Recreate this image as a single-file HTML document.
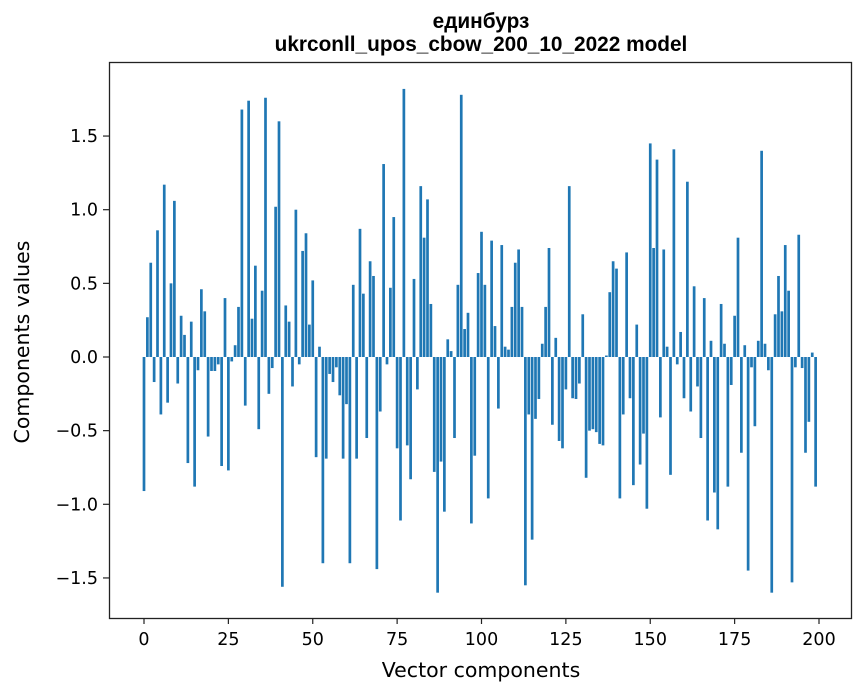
<!DOCTYPE html>
<html><head><meta charset="utf-8"><style>
html,body{margin:0;padding:0;background:#fff;}
svg{display:block;font-family:"DejaVu Sans","Liberation Sans",sans-serif;}
</style></head><body>
<svg id="chart" width="867" height="696" viewBox="0 0 867 696" xmlns="http://www.w3.org/2000/svg">
<rect x="0" y="0" width="867" height="696" fill="#fff"/>
<text x="481" y="28" text-anchor="middle" font-family="Liberation Sans, sans-serif" font-weight="bold" font-size="20.8">единбурз</text>
<text x="481" y="51" text-anchor="middle" font-family="Liberation Sans, sans-serif" font-weight="bold" font-size="20.8">ukrconll_upos_cbow_200_10_2022 model</text>
<g id="bars"></g>
<g id="axes"></g>
<rect x="109.5" y="62.5" width="742" height="556" fill="none" stroke="#222" stroke-width="1.3"/>
<text x="481" y="677" text-anchor="middle" font-size="20.5">Vector components</text>
<text transform="translate(29,342) rotate(-90)" text-anchor="middle" font-size="20.5">Components values</text>
</svg>
<script>
const values = [
-0.91,0.27,0.64,-0.17,0.86,-0.39,1.17,-0.31,0.50,1.06,
-0.18,0.28,0.15,-0.72,0.24,-0.88,-0.09,0.46,0.31,-0.54,
-0.095,-0.095,-0.05,-0.74,0.40,-0.77,-0.03,0.08,0.34,1.68,
-0.33,1.74,0.26,0.62,-0.49,0.45,1.76,-0.25,-0.075,1.02,
1.60,-1.56,0.35,0.24,-0.20,1.00,-0.05,0.72,0.84,0.22,
0.52,-0.68,0.07,-1.40,-0.69,-0.115,-0.17,-0.07,-0.26,-0.69,
-0.32,-1.40,0.49,-0.69,0.87,0.43,-0.55,0.65,0.55,-1.44,
-0.37,1.31,-0.05,0.47,0.95,-0.62,-1.11,1.82,-0.60,-0.83,
0.53,-0.22,1.16,0.81,1.07,0.36,-0.78,-1.60,-0.71,-1.05,
0.12,0.04,-0.55,0.49,1.78,0.19,0.30,-1.13,-0.67,0.57,
0.85,0.49,-0.96,0.79,0.21,-0.35,0.76,0.07,0.05,0.34,
0.64,0.73,0.34,-1.55,-0.39,-1.24,-0.42,-0.285,0.09,0.34,
0.74,-0.46,0.13,-0.57,-0.62,-0.22,1.16,-0.28,-0.285,-0.18,
0.29,-0.82,-0.50,-0.49,-0.51,-0.59,-0.60,0.01,0.44,0.65,
0.60,-0.96,-0.39,0.71,-0.28,-0.87,0.22,-0.73,-0.52,-1.03,
1.45,0.74,1.34,-0.41,0.73,0.07,-0.80,1.41,-0.05,0.17,
-0.28,1.19,-0.37,0.48,-0.20,-0.55,0.40,-1.11,0.11,-0.92,
-1.17,0.36,0.09,-0.88,-0.19,0.28,0.81,-0.65,0.08,-1.45,
-0.07,-0.47,0.11,1.40,0.09,-0.09,-1.60,0.29,0.55,0.31,
0.76,0.45,-1.53,-0.07,0.83,-0.075,-0.65,-0.44,0.03,-0.88
];
const xTicks = [0,25,50,75,100,125,150,175,200];
const yTicks = [-1.5,-1.0,-0.5,0.0,0.5,1.0,1.5];
const yTickLabels = ["\u22121.5","\u22121.0","\u22120.5","0.0","0.5","1.0","1.5"];

const NS = "http://www.w3.org/2000/svg";
function xScale(v){ return 144 + (v) * 3.375; }
function yScale(v){ return 357 - v * 147.3; }
const bw = 0.8 * 3.375;
const barsG = document.getElementById('bars');
values.forEach(function(v, i){
  const r = document.createElementNS(NS, 'rect');
  const y0 = yScale(0), y1 = yScale(v);
  r.setAttribute('x', xScale(i) - bw/2);
  r.setAttribute('y', Math.min(y0, y1));
  r.setAttribute('width', bw);
  r.setAttribute('height', Math.abs(y1 - y0));
  r.setAttribute('fill', '#1f77b4');
  
  
  barsG.appendChild(r);
});
const axesG = document.getElementById('axes');
xTicks.forEach(function(t){
  const x = xScale(t);
  const l = document.createElementNS(NS, 'line');
  l.setAttribute('x1', x); l.setAttribute('x2', x);
  l.setAttribute('y1', 618); l.setAttribute('y2', 624);
  l.setAttribute('stroke', '#222'); l.setAttribute('stroke-width', '1.2');
  
  
  axesG.appendChild(l);
  const tx = document.createElementNS(NS, 'text');
  tx.setAttribute('x', x); tx.setAttribute('y', 645);
  tx.setAttribute('text-anchor', 'middle'); tx.setAttribute('font-size', '17.5');
  tx.textContent = String(t);
  
  
  axesG.appendChild(tx);
});
yTicks.forEach(function(t, i){
  const y = yScale(t);
  const l = document.createElementNS(NS, 'line');
  l.setAttribute('x1', 103); l.setAttribute('x2', 109);
  l.setAttribute('y1', y); l.setAttribute('y2', y);
  l.setAttribute('stroke', '#222'); l.setAttribute('stroke-width', '1.2');
  
  
  axesG.appendChild(l);
  const tx = document.createElementNS(NS, 'text');
  tx.setAttribute('x', 98); tx.setAttribute('y', y + 6);
  tx.setAttribute('text-anchor', 'end'); tx.setAttribute('font-size', '17.5');
  tx.textContent = yTickLabels[i];
  
  
  axesG.appendChild(tx);
});
</script>
</body></html>
